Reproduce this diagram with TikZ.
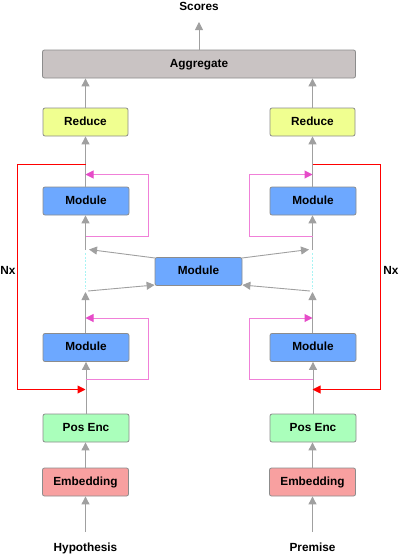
\documentclass[tikz,border=0pt]{standalone}
\usepackage{fontspec}
\setmainfont{Liberation Sans}
\usetikzlibrary{arrows.meta}
\definecolor{modblue}{HTML}{6DA8FF}
\definecolor{redyel}{HTML}{F0FF90}
\definecolor{posgreen}{HTML}{AAFFBB}
\definecolor{embred}{HTML}{F8A0A0}
\definecolor{agggray}{HTML}{C9C3C3}
\definecolor{boxline}{HTML}{8C8C8C}
\definecolor{arrgray}{HTML}{A0A0A0}
\definecolor{pinkline}{HTML}{F080D8}
\definecolor{pinktip}{HTML}{E64BC8}
\definecolor{cyandash}{HTML}{A8F4F4}
\tikzset{
  box/.style={draw=boxline, line width=0.8pt, rounded corners=2pt, minimum height=28pt, minimum width=86pt, inner sep=0pt, text height=8.6pt, text depth=2.4pt, font=\bfseries\fontsize{11.8}{13}\selectfont},
  lbl/.style={inner sep=0pt, text height=8.6pt, text depth=2.4pt, font=\bfseries\fontsize{11.8}{13}\selectfont},
  garr/.style={draw=arrgray, line width=0.9pt, -{Triangle[width=8pt,length=8pt,color=arrgray,fill=arrgray]}},
  parr/.style={draw=pinkline, line width=1pt, -{Triangle[width=8pt,length=8pt,color=pinktip,fill=pinktip]}},
  rarr/.style={draw=red, line width=1pt, -{Triangle[width=8pt,length=8pt,color=red,fill=red]}},
}
\begin{document}
\begin{tikzpicture}[x=1pt,y=-1pt]
\useasboundingbox (0,0) rectangle (400,555);
% text labels
\node[lbl] (scores) at (199,7.5) {Scores};
\node[lbl] (hyp) at (85.5,548) {Hypothesis};
\node[lbl] (prem) at (312.5,548) {Premise};
\node[lbl] (nxl) at (8,271.5) {Nx};
\node[lbl] (nxr) at (391,271.5) {Nx};
% boxes
\node[box, fill=agggray, minimum width=313pt] (agg) at (199,64) {Aggregate};
\node[box, fill=redyel, minimum width=85pt] (redL) at (85.5,122) {Reduce};
\node[box, fill=redyel, minimum width=85pt] (redR) at (312.5,122) {Reduce};
\node[box, fill=modblue] (mUL) at (86,201) {Module};
\node[box, fill=modblue] (mUR) at (313,201) {Module};
\node[box, fill=modblue, minimum width=87pt] (mC) at (198.5,271.5) {Module};
\node[box, fill=modblue] (mLL) at (86,347.5) {Module};
\node[box, fill=modblue] (mLR) at (313,347.5) {Module};
\node[box, fill=posgreen] (posL) at (86,428) {Pos Enc};
\node[box, fill=posgreen] (posR) at (313,428) {Pos Enc};
\node[box, fill=embred] (embL) at (85.5,482) {Embedding};
\node[box, fill=embred] (embR) at (312.5,482) {Embedding};
% coordinates
\coordinate (sc) at (199,22);
\coordinate (hypt) at (85.5,532);
\coordinate (premt) at (312.5,532);
\coordinate (gLtop) at (85.5,250);
\coordinate (gLbot) at (85.5,292);
\coordinate (gRtop) at (312.5,250);
\coordinate (gRbot) at (312.5,292);
% top arrows
\draw[garr] (agg.north) -- (sc);
\draw[garr] (redL.north) -- (redL.north |- agg.south);
\draw[garr] (redR.north) -- (redR.north |- agg.south);
\draw[garr] (mUL.north -| redL.south) -- (redL.south);
\draw[garr] (mUR.north -| redR.south) -- (redR.south);
% column arrows
\draw[garr] (gLtop) -- (gLtop |- mUL.south);
\draw[garr] (gRtop) -- (gRtop |- mUR.south);
\draw[garr] (mLL.north -| gLbot) -- (gLbot);
\draw[garr] (mLR.north -| gRbot) -- (gRbot);
\draw[garr] (posL.north -| mLL.south) -- (mLL.south);
\draw[garr] (posR.north -| mLR.south) -- (mLR.south);
\draw[garr] (embL.north) -- (embL.north |- posL.south);
\draw[garr] (embR.north) -- (embR.north |- posR.south);
\draw[garr] (hypt) -- (embL.south);
\draw[garr] (premt) -- (embR.south);
% cyan dashed gaps
\draw[cyandash, line width=0.9pt, dash pattern=on 2pt off 1.5pt] (85.5,253) -- (85.5,289);
\draw[cyandash, line width=0.9pt, dash pattern=on 2pt off 1.5pt] (312.5,253) -- (312.5,289);
% central module arrows
\coordinate (cLa) at (89,249.5);
\coordinate (cLb) at (88,291);
\coordinate (cRa) at (309,249.5);
\coordinate (cRb) at (310,291);
\draw[garr] (155,258) -- (cLa);
\draw[garr] (cLb) -- (mC.west |- 0,285);
\draw[garr] (242,258) -- (cRa);
\draw[garr] (cRb) -- (mC.east |- 0,285);
% pink loops left
\coordinate (pL1s) at (85.5,236.5);
\coordinate (pL1e) at (85.5,174.5);
\draw[parr] (pL1s) -- (148.5,236.5) -- (148.5,174.5) -- (pL1e);
\coordinate (pL2s) at (85.5,379.5);
\coordinate (pL2e) at (85.5,318);
\draw[parr] (pL2s) -- (148.5,379.5) -- (148.5,318) -- (pL2e);
% pink loops right
\coordinate (pR1s) at (312.5,236.5);
\coordinate (pR1e) at (312.5,174.5);
\draw[parr] (pR1s) -- (249,236.5) -- (249,174.5) -- (pR1e);
\coordinate (pR2s) at (312.5,379.5);
\coordinate (pR2e) at (312.5,318);
\draw[parr] (pR2s) -- (249,379.5) -- (249,318) -- (pR2e);
% red loops
\coordinate (rLs) at (85.5,164.5);
\coordinate (rLe) at (85.5,389.5);
\draw[rarr] (rLs) -- (17.5,164.5) -- (17.5,389.5) -- (rLe);
\coordinate (rRs) at (312.5,164.5);
\coordinate (rRe) at (312.5,389.5);
\draw[rarr] (rRs) -- (380,164.5) -- (380,389.5) -- (rRe);
\end{tikzpicture}
\end{document}
